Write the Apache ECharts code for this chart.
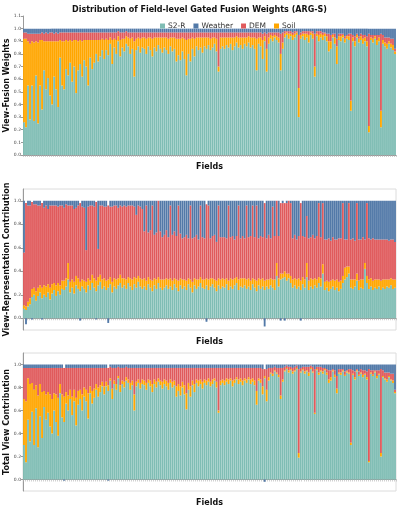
<!DOCTYPE html>
<html lang="en">
<head>
	<meta charset="UTF-8">
	<title>Gated Fusion Weights</title>
	<script src="https://cdn.jsdelivr.net/npm/echarts@6/dist/echarts.min.js"></script>
	<style>
		html, body { margin: 0; padding: 0; background: #fff; }
		#echart { width: 399px; height: 508px; }
	</style>
</head>
<body>
	<div id="echart"></div>
	<script>
	var fusionS2 = [
		26,22,55,28,55,27,63,25,55,36, 67,52,61,47,40,62,52,38,77,55,
		52,68,63,73,58,70,49,67,72,62, 75,70,55,77,68,73,80,74,78,83,
		76,83,79,88,72,85,80,90,78,85, 82,88,86,80,84,62,83,86,81,85,
		84,80,86,83,78,85,82,87,84,81, 85,83,80,86,82,84,74,79,75,82,
		76,63,80,74,84,78,86,83,85,81, 86,84,87,83,85,88,82,66,84,86,
		84,87,85,88,83,86,89,85,87,84, 88,86,89,85,87,84,67,88,86,76,
		90,66,88,92,90,93,91,89,67,84, 93,95,92,94,91,93,95,30,92,94,
		91,93,89,95,92,62,94,90,93,91, 94,90,82,84,93,88,72,91,90,93,
		89,92,91,35,90,86,93,89,91,88, 90,86,18,91,89,92,87,90,22,88,
		86,84,88,85,83,80
	];
	var fusionSoil = [
		66,70,35,60,35,62,27,64,36,55, 23,38,29,43,50,28,38,52,14,35,
		38,23,27,18,32,21,42,23,19,28, 16,21,36,14,23,18,11,17,13,9,
		15,9,12,5,19,7,11,4,13,7, 10,6,7,12,9,28,9,7,11,8,
		9,12,7,10,14,8,11,6,9,12, 8,10,12,7,11,9,18,13,17,11,
		16,28,12,18,9,14,7,10,8,12, 7,9,6,9,8,5,10,4,9,7,
		9,6,8,5,10,7,5,8,6,9, 5,7,5,8,6,9,25,5,7,15,
		4,18,5,3,4,2,3,4,13,5, 3,2,4,2,4,3,2,23,3,2,
		5,3,6,2,4,8,2,5,3,4, 2,4,8,6,2,5,14,3,4,2,
		3,2,3,8,3,4,2,3,3,4, 3,4,5,2,3,2,4,3,13,3,
		3,4,2,3,4,2
	];
	var fusionDem = [
		5,5,6,8,6,7,6,7,5,6, 6,7,6,7,7,6,7,6,6,7,
		7,6,7,6,7,6,6,7,6,7, 6,6,6,6,6,6,6,6,6,5,
		6,5,6,4,6,5,6,4,6,5, 5,4,4,5,4,7,5,4,5,4,
		4,5,4,4,5,4,4,4,4,4, 4,4,5,4,4,4,5,5,5,4,
		5,6,5,5,4,5,4,4,4,4, 4,4,4,5,4,4,5,27,4,4,
		4,4,4,4,4,4,3,4,4,4, 4,4,3,4,4,4,5,4,4,5,
		3,12,4,2,3,2,3,4,16,8, 2,1,2,2,2,2,1,42,2,2,
		2,2,3,1,2,26,2,3,2,2, 1,2,6,5,1,3,6,2,2,1,
		2,1,2,53,2,4,1,2,2,3, 2,4,73,2,3,1,4,2,61,4,
		4,5,3,4,5,2
	];
	var fusionWeather = [
		3,3,4,4,4,4,4,4,4,3, 4,3,4,3,3,4,3,4,3,3,
		3,3,3,3,3,3,3,3,3,3, 3,3,3,3,3,3,3,3,3,3,
		3,3,3,3,3,3,3,2,3,3, 3,2,3,3,3,3,3,3,3,3,
		3,3,3,3,3,3,3,3,3,3, 3,3,3,3,3,3,3,3,3,3,
		3,3,3,3,3,3,3,3,3,3, 3,3,3,3,3,3,3,3,3,3,
		3,3,3,3,3,3,3,3,3,3, 3,3,3,3,3,3,3,3,3,4,
		3,4,3,3,3,3,3,3,4,3, 2,2,2,2,3,2,2,5,3,2,
		2,2,2,2,2,4,2,2,2,3, 3,4,4,5,4,4,8,4,4,4,
		6,5,4,4,5,6,4,6,4,5, 5,6,4,5,5,5,5,5,4,5,
		7,7,7,8,8,16
	];

	var reprS2 = [
		8,7,10,12,18,20,15,19,22,17, 20,18,22,16,21,24,19,23,20,25,
		24,27,33,22,26,21,28,25,23,27, 25,22,28,24,30,26,23,28,31,25,
		27,24,26,29,22,27,25,28,30,26, 28,25,30,27,24,29,26,31,27,25,
		27,24,29,26,23,28,25,30,26,24, 26,28,25,27,24,29,26,23,28,25,
		27,24,29,26,22,28,25,27,30,26, 25,28,24,27,29,26,23,28,25,27,
		26,29,24,27,25,28,30,24,27,26, 28,25,27,24,29,26,23,28,25,27,
		24,27,25,28,26,24,36,27,33,34, 35,32,34,30,26,28,25,27,24,29,
		26,35,24,27,25,28,26,30,27,38, 24,26,23,25,27,24,26,23,25,30,
		33,35,38,26,25,27,32,24,26,25, 42,30,25,27,24,26,25,27,24,26,
		25,27,26,28,25,26
	];
	var reprSoil = [
		3,3,4,5,7,6,8,7,6,9, 8,9,7,10,8,6,9,7,8,7,
		8,7,14,9,7,10,8,9,8,6, 7,9,6,8,7,8,9,7,6,8,
		7,8,7,6,9,7,8,6,7,8, 6,8,5,7,9,6,8,5,7,8,
		7,8,6,7,9,6,8,5,7,9, 7,6,8,7,8,5,7,9,6,8,
		6,8,5,7,9,6,8,6,5,7, 8,6,9,7,5,7,9,6,8,7,
		7,5,8,7,8,6,5,9,7,8, 6,8,7,8,5,7,9,6,8,7,
		8,6,8,6,7,9,11,7,5,4, 5,6,4,6,7,6,8,7,8,6,
		7,12,8,7,8,6,7,5,7,8, 7,6,8,7,6,8,7,8,7,6,
		10,9,6,7,8,6,6,8,7,8, 5,6,8,7,8,7,8,6,8,7,
		8,6,7,6,8,7
	];
	var reprDem = [
		45,88,82,79,74,71,74,70,68,72, 66,69,64,70,67,66,68,65,68,64,
		62,63,49,65,63,62,58,62,67,62, 62,27,61,64,59,61,67,24,59,63,
		61,63,63,60,64,62,63,60,59,61, 62,62,61,62,63,60,54,60,61,60,
		40,64,38,42,64,37,40,65,41,36, 38,41,36,62,39,40,37,64,38,35,
		36,39,34,63,37,35,38,34,61,36, 35,63,63,34,36,38,33,62,36,35,
		36,34,64,35,37,33,35,63,34,36, 34,63,35,38,62,36,64,34,37,35,
		66,35,38,34,62,37,53,36,60,60, 58,60,62,62,35,37,34,36,66,35,
		36,40,36,35,38,34,37,63,35,52, 36,35,37,34,36,35,34,37,36,62,
		24,23,54,34,35,33,60,35,34,36, 20,62,35,33,36,34,34,34,35,34,
		34,34,33,33,34,32
	];
	var reprWeather = [
		44,-5,4,4,-1,3,3,4,4,-1, 6,4,7,4,4,4,4,5,4,4,
		6,3,4,4,4,7,6,4,-2,5, 6,42,5,4,4,5,-1,41,4,4,
		5,5,-4,5,5,4,4,6,4,5, 4,5,4,4,4,5,12,4,5,7,
		26,4,27,25,4,29,27,0,26,31, 29,25,31,4,29,26,30,4,28,32,
		31,29,32,4,32,31,29,33,4,31, 32,-3,4,32,30,29,35,4,31,31,
		31,32,4,31,30,33,30,4,32,30, 32,4,31,30,4,31,4,32,30,31,
		-7,32,29,32,5,30,0,30,-2,2, -2,2,0,2,32,29,33,30,-2,30,
		31,13,32,31,29,32,30,2,31,2, 33,33,32,34,31,33,33,32,32,2,
		33,33,2,33,32,34,2,33,33,31, 33,2,32,33,32,33,33,33,33,33,
		33,33,34,33,33,35
	];

	var totalS2 = [
		30,15,52,33,59,30,62,28,55,36, 63,52,58,46,40,60,50,38,75,54,
		50,66,60,70,56,68,47,65,70,60, 72,68,53,75,66,71,78,72,76,81,
		74,81,77,86,70,83,78,88,76,83, 80,86,84,78,82,60,81,84,79,83,
		82,78,84,81,76,83,80,85,82,79, 83,81,78,84,80,82,72,77,73,80,
		74,61,78,72,82,76,84,81,83,79, 84,82,85,81,83,86,80,58,82,84,
		82,85,83,86,81,84,87,83,85,82, 86,84,87,83,85,82,65,86,84,74,
		88,68,86,92,90,94,92,89,70,85, 94,96,93,95,92,94,96,19,93,95,
		92,94,90,96,93,57,95,91,94,92, 95,91,84,86,94,89,75,92,91,94,
		90,93,92,30,91,87,94,90,92,89, 91,87,15,92,90,93,88,91,20,89,
		87,85,89,86,84,75
	];
	var totalSoil = [
		40,53,36,50,25,48,20,45,28,40, 14,22,18,28,30,15,24,33,8,20,
		22,10,13,8,16,10,24,12,8,14, 8,10,22,6,11,8,5,8,6,4,
		7,4,5,2,9,3,5,2,6,3, 5,3,3,6,4,14,4,3,5,4,
		4,6,3,5,7,4,5,3,4,6, 4,5,6,3,5,4,9,6,8,5,
		8,14,6,9,4,7,3,5,4,6, 3,4,3,4,4,2,5,2,4,3,
		4,3,4,2,5,3,2,4,3,4, 2,3,2,4,3,4,12,2,3,7,
		2,10,3,1,2,1,1,2,3,2, 1,1,2,1,2,1,1,4,1,1,
		2,1,3,1,1,1,1,2,1,2, 1,2,3,3,1,2,4,1,2,1,
		1,1,1,2,1,2,1,1,1,2, 1,2,1,1,1,1,2,1,3,1,
		1,2,1,1,2,1
	];
	var totalDem = [
		27,29,9,14,13,19,15,24,14,21, 20,23,21,23,27,22,23,26,14,23,
		25,21,24,19,25,19,26,20,19,23, 17,19,22,16,20,18,14,17,15,12,
		16,12,15,10,18,11,14,8,15,11, 12,9,10,13,11,23,12,10,13,10,
		11,13,10,11,14,10,12,9,11,12, 10,11,13,10,12,11,16,14,16,12,
		15,22,13,16,11,14,10,11,10,12, 10,11,9,12,10,9,12,37,11,10,
		11,9,10,9,11,10,8,10,9,11, 9,10,8,10,9,11,20,9,10,15,
		6,18,8,4,5,3,4,6,24,10, 3,2,3,2,3,3,2,73,3,2,
		4,3,5,2,4,38,2,5,3,3, 1,3,8,6,1,4,11,3,3,1,
		3,1,3,64,3,5,1,3,3,4, 3,5,80,2,4,1,5,3,73,5,
		5,6,3,5,6,2
	];
	var totalWeather = [
		3,3,3,3,3,3,3,3,3,3, 3,3,3,3,3,3,3,3,3,3,
		-1,3,3,3,3,3,3,3,3,3, 3,3,3,3,3,3,3,3,3,3,
		3,3,-1,2,3,3,3,2,3,3, 3,2,3,3,3,3,3,3,3,3,
		3,3,3,3,3,3,3,3,3,3, 3,3,3,3,3,3,3,3,3,3,
		3,3,3,3,3,3,3,3,3,3, 3,3,3,3,3,3,3,3,3,3,
		3,3,3,3,3,3,3,3,3,3, 3,3,3,3,3,3,3,3,3,4,
		-2,4,3,3,3,2,3,3,3,3, 2,1,2,2,3,2,1,4,3,2,
		2,2,2,1,2,4,2,2,2,3, 3,4,5,5,4,5,10,4,4,4,
		6,5,4,4,5,6,4,6,4,5, 5,6,4,5,5,5,5,5,4,5,
		7,7,7,8,8,22
	];

	var fields = fusionS2.map(function (v, i) { return 'Field ' + (i + 1); });
	var views = ['S2-R', 'Weather', 'DEM', 'Soil'];
	var colors = { 'S2-R': '#7fbdb4', 'Weather': '#5279a8', 'DEM': '#e05a5c', 'Soil': '#ffa600' };
	var panels = [
		{ name: 'View-Fusion Weights', data: { 'S2-R': fusionS2, 'Soil': fusionSoil, 'DEM': fusionDem, 'Weather': fusionWeather } },
		{ name: 'View-Representation Contribution', data: { 'S2-R': reprS2, 'Soil': reprSoil, 'DEM': reprDem, 'Weather': reprWeather } },
		{ name: 'Total View Contribution', data: { 'S2-R': totalS2, 'Soil': totalSoil, 'DEM': totalDem, 'Weather': totalWeather } }
	];
	var font = 'DejaVu Sans';
	var ticks02 = [0, 0.2, 0.4, 0.6, 0.8, 1.0];

	var grids = [
		{ left: 23, right: 3, top: 16, height: 139, outerBoundsMode: 'none', containLabel: false },
		{ left: 23, right: 3, top: 189, height: 141, outerBoundsMode: 'none', containLabel: false,
			show: true, borderColor: '#dcdcdc', borderWidth: 1 },
		{ left: 23, right: 3, top: 353, height: 138, outerBoundsMode: 'none', containLabel: false,
			show: true, borderColor: '#dcdcdc', borderWidth: 1 }
	];

	var xAxes = [], yAxes = [], series = [];
	panels.forEach(function (p, k) {
		xAxes.push({
			type: 'category', gridIndex: k, data: fields,
			name: 'Fields', nameLocation: 'middle', nameGap: 8, nameMoveOverlap: false,
			nameTextStyle: { fontFamily: font, fontWeight: 'bold', fontSize: 8, color: '#111' },
			axisLine: { lineStyle: { color: '#9a9a9a', width: 1 } },
			axisTick: { show: true, interval: 0, length: 2, lineStyle: { color: '#b0b0b0', width: 0.6 } },
			axisLabel: { show: false }
		});
		var y = {
			type: 'value', gridIndex: k,
			name: p.name, nameLocation: 'middle', nameGap: 12, nameMoveOverlap: false,
			nameTextStyle: { fontFamily: font, fontWeight: 'bold', fontSize: 8, color: '#111' },
			axisLine: { show: true, lineStyle: { color: '#9a9a9a', width: 1 } },
			axisTick: { show: true, length: 2, lineStyle: { color: '#9a9a9a' } },
			axisLabel: { fontFamily: font, fontSize: 4.5, color: '#444', margin: 2,
				formatter: function (v) { return (Math.round(v * 10) / 10).toFixed(1); } },
			splitLine: { show: false }
		};
		if (k === 0) {
			y.min = 0; y.max = 1.1; y.interval = 0.1;
		} else {
			y.min = -0.1; y.max = 1.1;
			y.axisLabel.customValues = ticks02;
			y.axisTick.customValues = ticks02;
		}
		yAxes.push(y);
		['S2-R', 'Soil', 'DEM', 'Weather'].forEach(function (v) {
			series.push({
				name: v, type: 'bar', stack: 'panel' + k,
				xAxisIndex: k, yAxisIndex: k,
				barCategoryGap: '8%',
				itemStyle: { color: colors[v] },
				data: p.data[v].map(function (x) { return x / 100; })
			});
		});
	});

	var mychart = echarts.init(document.getElementById('echart'), null, { renderer: 'canvas' });
	mychart.setOption({
		animation: false,
		backgroundColor: '#fff',
		title: {
			text: 'Distribution of Field-level Gated Fusion Weights (ARG-S)',
			left: 'center', top: 1,
			textStyle: { fontFamily: font, fontWeight: 'bold', fontSize: 8, color: '#111' }
		},
		legend: {
			data: views, left: 155, top: 17,
			icon: 'rect', itemWidth: 5, itemHeight: 5, itemGap: 8,
			textStyle: { fontFamily: font, fontSize: 7.5, color: '#333', padding: [0, 0, 0, -2] }
		},
		grid: grids,
		xAxis: xAxes,
		yAxis: yAxes,
		series: series
	});
	</script>
</body>
</html>
